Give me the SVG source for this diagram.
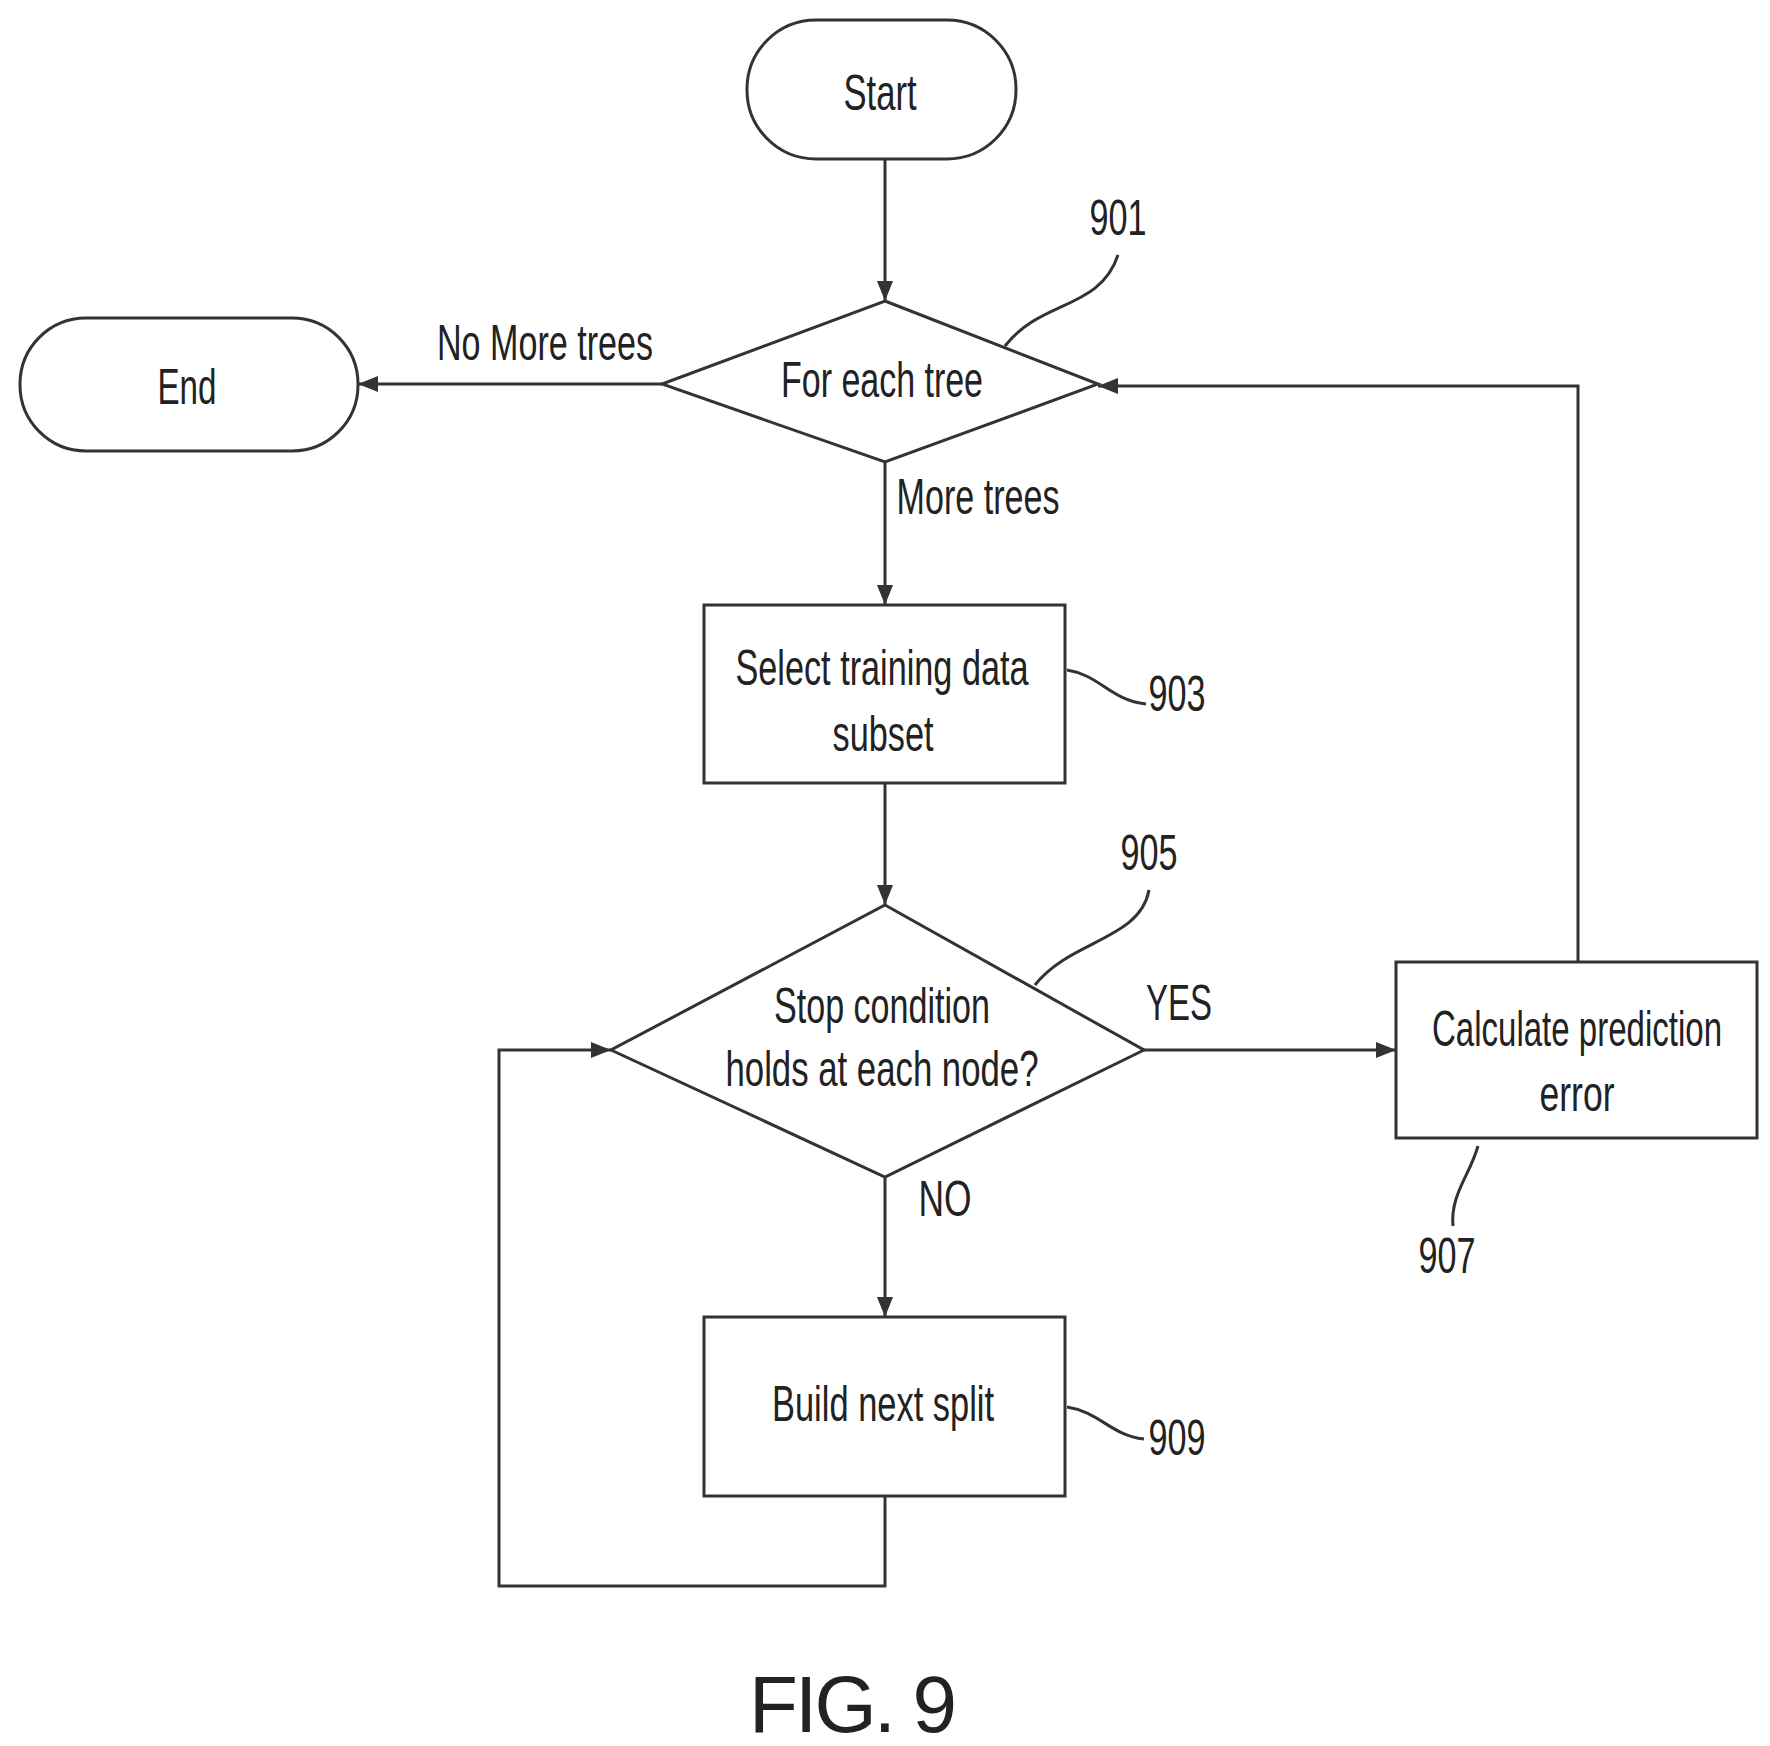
<svg xmlns="http://www.w3.org/2000/svg" width="1770" height="1746" viewBox="0 0 1770 1746">
<style>
.s{fill:none;stroke:#333;stroke-width:3}
.n{fill:#fff;stroke:#333;stroke-width:3}
text{font-family:"Liberation Sans",Arial,sans-serif;font-size:50px;fill:#222;text-anchor:middle}
.c{stroke:#333;stroke-width:3;fill:none;marker-end:url(#b)}
</style>
<defs><marker id="b" markerWidth="20" markerHeight="16" refX="20" refY="8" orient="auto" markerUnits="userSpaceOnUse" viewBox="0 0 20 16"><path d="M0,0L20,8L0,16z" fill="#333"/></marker></defs>
<rect width="1770" height="1746" fill="#fff"/>
<g id="connectors">
<path class="c" d="M885,159V301"/>
<path class="c" d="M662,384H358"/>
<path class="c" d="M885,462V605"/>
<path class="c" d="M885,783V905"/>
<path class="c" d="M1144,1050H1396"/>
<path class="c" d="M885,1177V1317"/>
<path class="c" d="M885,1496V1586H499V1050H611"/>
<path class="c" d="M1578,962V386H1098"/>
<text x="545" y="360" textLength="216" lengthAdjust="spacingAndGlyphs">No More trees</text>
<text x="978" y="514" textLength="163" lengthAdjust="spacingAndGlyphs">More trees</text>
<text x="1179" y="1020" textLength="66" lengthAdjust="spacingAndGlyphs">YES</text>
<text x="945" y="1216" textLength="53" lengthAdjust="spacingAndGlyphs">NO</text>
</g>
<g id="start"><rect class="n" x="747" y="20" width="269" height="139" rx="69"/><text x="880" y="110" textLength="73" lengthAdjust="spacingAndGlyphs">Start</text></g>
<g id="end"><rect class="n" x="20" y="318" width="338" height="133" rx="66"/><text x="187" y="404" textLength="59" lengthAdjust="spacingAndGlyphs">End</text></g>
<g id="n901"><path class="n" d="M885,301L1098,384L885,462L662,384Z"/><text x="882" y="397" textLength="202" lengthAdjust="spacingAndGlyphs">For each tree</text>
<text x="1118" y="235" textLength="57" lengthAdjust="spacingAndGlyphs">901</text><path class="s" d="M1005,346C1040,300 1100,310 1118,255"/></g>
<g id="n903"><rect class="n" x="704" y="605" width="361" height="178"/><text x="882" y="685" textLength="293" lengthAdjust="spacingAndGlyphs">Select training data</text><text x="883" y="751" textLength="101" lengthAdjust="spacingAndGlyphs">subset</text>
<text x="1177" y="711" textLength="57" lengthAdjust="spacingAndGlyphs">903</text><path class="s" d="M1067,670C1100,675 1110,700 1146,704"/></g>
<g id="n905"><path class="n" d="M885,905L1144,1050L885,1177L611,1050Z"/><text x="882" y="1023" textLength="216" lengthAdjust="spacingAndGlyphs">Stop condition</text><text x="882" y="1086" textLength="313" lengthAdjust="spacingAndGlyphs">holds at each node?</text>
<text x="1149" y="870" textLength="57" lengthAdjust="spacingAndGlyphs">905</text><path class="s" d="M1035,985C1070,940 1140,940 1149,890"/></g>
<g id="n907"><rect class="n" x="1396" y="962" width="361" height="176"/><text x="1577" y="1046" textLength="290" lengthAdjust="spacingAndGlyphs">Calculate prediction</text><text x="1577" y="1111" textLength="75" lengthAdjust="spacingAndGlyphs">error</text>
<text x="1447" y="1273" textLength="57" lengthAdjust="spacingAndGlyphs">907</text><path class="s" d="M1478,1146C1470,1175 1450,1195 1453,1226"/></g>
<g id="n909"><rect class="n" x="704" y="1317" width="361" height="179"/><text x="883" y="1421" textLength="222" lengthAdjust="spacingAndGlyphs">Build next split</text>
<text x="1177" y="1455" textLength="57" lengthAdjust="spacingAndGlyphs">909</text><path class="s" d="M1067,1407C1100,1412 1110,1435 1144,1439"/></g>
<text x="853" y="1732" style="font-size:80px" textLength="208">FIG. 9</text>
</svg>
